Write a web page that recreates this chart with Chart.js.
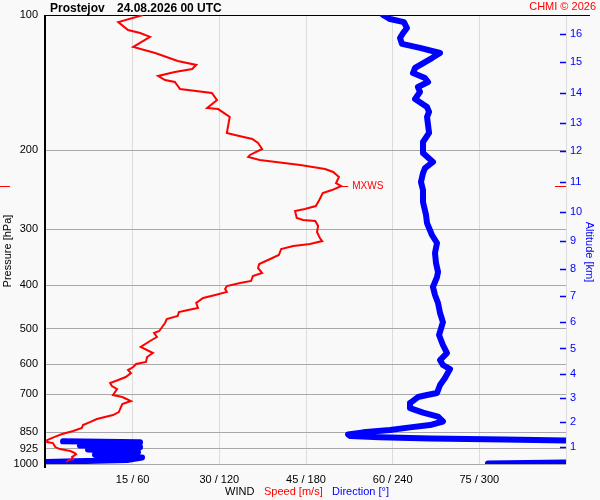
<!DOCTYPE html>
<html>
<head>
<meta charset="utf-8">
<script src="https://cdn.jsdelivr.net/npm/chart.js@4/dist/chart.umd.min.js"></script>
<style>
  html, body { margin: 0; padding: 0; background: #f9f9f9; }
  #wrap { width: 600px; height: 500px; }
</style>
</head>
<body>
<div id="wrap"><canvas id="sounding" width="600" height="500"></canvas></div>
<script>
// wind speed profile: pressure levels (hPa) and speed (m/s)
const speedPressure = [100, 103.7, 108.0, 109.7, 111.9, 117.8, 121.5, 126.6, 129.2, 131.9,
  134.0, 136.7, 139.6, 141.0, 146.2, 149.2, 154.7, 161.1, 162.0, 168.7,
  183.1, 185.0, 188.9, 192.8, 198.8, 205.0, 207.1, 210.3, 215.8, 220.3,
  223.7, 229.5, 236.7, 240.4, 245.4, 249.2, 258.3, 266.4, 270.5, 273.3,
  283.3, 286.2, 287.6, 295.1, 304.3, 313.8, 318.7, 323.6, 326.9, 332.0,
  342.4, 349.5, 358.6, 366.0, 375.5, 381.3, 391.2, 395.2, 401.4, 407.6,
  413.9, 420.3, 426.8, 437.9, 449.3, 453.9, 458.6, 468.1, 475.4, 485.2,
  495.3, 505.6, 510.8, 521.4, 532.2, 548.8, 566.0, 577.7, 592.7, 598.8,
  608.1, 617.6, 627.2, 640.2, 650.1, 660.2, 670.5, 680.9, 702.2, 709.4,
  724.1, 735.4, 766.1, 778.0, 794.1, 806.5, 819.0, 831.7, 844.6, 857.7,
  871.0, 884.5, 893.6, 898.2, 916.8, 926.3, 935.8, 945.5, 950.4, 965.1,
  975.1, 979.6, 989.8];
const speed = [16.8, 12.5, 14.2, 16.3, 18.0, 15.1, 18.9, 22.8, 26.0, 25.3,
  22.3, 19.4, 20.6, 22.3, 23.2, 28.7, 29.6, 27.9, 29.8, 31.8,
  31.3, 32.7, 35.7, 36.7, 37.4, 35.3, 35.0, 37.0, 44.0, 48.3,
  49.7, 50.7, 50.2, 51.1, 49.5, 47.9, 47.3, 46.7, 44.8, 43.1,
  43.4, 44.5, 46.6, 47.1, 46.9, 47.4, 47.8, 45.7, 42.8, 40.7,
  40.3, 38.8, 36.9, 36.7, 37.4, 35.8, 35.5, 33.6, 31.3, 31.0,
  31.3, 29.3, 27.2, 26.0, 26.3, 24.6, 23.0, 22.8, 20.9, 20.6,
  20.1, 19.6, 18.7, 19.2, 18.0, 16.4, 18.5, 17.5, 17.3, 15.6,
  15.1, 14.2, 14.7, 13.8, 12.5, 11.1, 11.4, 12.3, 11.6, 13.2,
  14.7, 13.2, 12.6, 11.6, 8.8, 7.6, 6.4, 6.2, 4.7, 2.8,
  1.4, 0.2, 0.2, 1.2, 1.6, 2.4, 4.2, 5.0, 5.2, 4.5,
  4.7, 4.0, 3.5];

// wind direction profile (deg); null breaks the line where it wraps 360 -> 0
const dirPressure = [100, 102.1, 103.7, 106.9, 109.7, 112.5, 116.0, 118.4, 121.5, 124.7,
  131.2, 134.7, 138.2, 141.0, 144.7, 148.4, 153.9, 160.3, 164.4, 168.7,
  175.8, 183.1, 191.8, 202.9, 212.5, 219.2, 224.9, 235.5, 245.4, 261.0,
  278.9, 290.6, 309.0, 322.0, 338.9, 356.7, 373.6, 383.3, 403.4, 420.3,
  437.9, 461.0, 482.9, 516.1, 543.2, 566.0, 586.7, 601.9, 614.4, 643.5,
  667.0, 695.0, 702.2, 709.4, 731.6, 750.6, 768.1, 784.0, 804.1, 819.0,
  828.7, 840.3, 850.2, 859.0, 866.5, 872.3, 877.7, 882.2, 885.9, null,
  890.4, 895.0, 909.8, 916.8, 928.7, 940.7, 955.3, 967.6, 979.6, 989.8,
  null, 992.3, 997.5];
const direction = [233.3, 238.2, 247.8, 249.9, 247.2, 245.1, 246.5, 258.9, 272.8, 267.2,
  255.5, 254.1, 262.4, 264.5, 257.5, 258.9, 255.5, 263.8, 265.2, 263.8,
  264.5, 265.2, 261.0, 261.0, 267.9, 262.4, 261.0, 259.6, 261.0, 261.0,
  263.1, 263.8, 267.2, 270.7, 269.3, 270.0, 271.4, 270.7, 267.9, 269.3,
  271.4, 272.8, 274.8, 272.1, 274.8, 277.6, 272.8, 274.8, 279.7, 276.2,
  272.8, 270.7, 263.8, 257.5, 252.0, 252.0, 261.0, 271.4, 274.8, 265.8,
  252.0, 238.2, 219.5, 209.1, 210.5, 231.2, 265.8, 317.8, 359.3, null,
  11.8, 65.1, 23.5, 65.1, 29.1, 63.7, 33.9, 66.5, 56.1, 0,
  null, 359.3, 306.0];

// axis ticks
const pressureTicks = [100, 200, 300, 400, 500, 600, 700, 850, 925, 1000];
const speedTicks = [15, 30, 45, 60, 75, 90];
const dirTicks = [60, 120, 180, 240, 300, 360];
const altitudeKm = [1, 2, 3, 4, 5, 6, 7, 8, 9, 10, 11, 12, 13, 14, 15, 16];
const altitudePressure = [915, 807, 714, 630, 553, 482, 423, 367, 318, 275, 236, 201, 174, 149, 127.5, 110];

const RED = '#ff0000';
const BLUE = '#0000ff';
Chart.defaults.font.family = '"Liberation Sans", Arial, sans-serif';
Chart.defaults.font.size = 11;

const decor = {
    id: 'decor',
    beforeDraw(chart) {
        const ctx = chart.ctx;
        ctx.save();
        ctx.fillStyle = '#f9f9f9';
        ctx.fillRect(0, 0, chart.width, chart.height);
        ctx.restore();
    },
    beforeDatasetsDraw(chart) {
        const ctx = chart.ctx;
        const a = chart.chartArea;
        ctx.save();
        ctx.strokeStyle = '#000';
        ctx.lineWidth = 2;
        ctx.beginPath();
        ctx.moveTo(a.left - 1, a.top);
        ctx.lineTo(a.left - 1, a.bottom + 4);
        ctx.stroke();
        ctx.lineWidth = 1;
        ctx.beginPath();
        ctx.moveTo(a.left - 2, a.top + 0.5);
        ctx.lineTo(590, a.top + 0.5);
        ctx.stroke();
        ctx.restore();
    },
    afterDraw(chart) {
        const ctx = chart.ctx;
        const a = chart.chartArea;
        const yS = chart.scales.y;
        const xS = chart.scales.x;
        ctx.save();

        // inward altitude ticks
        ctx.strokeStyle = BLUE;
        ctx.lineWidth = 1.5;
        altitudePressure.forEach(p => {
            const y = Math.round(yS.getPixelForValue(p)) + 0.5;
            ctx.beginPath();
            ctx.moveTo(a.right - 6, y);
            ctx.lineTo(a.right, y);
            ctx.stroke();
        });

        // maximum wind marker
        let iMax = 0;
        speed.forEach((s, i) => { if (s > speed[iMax]) iMax = i; });
        const my = Math.round(yS.getPixelForValue(speedPressure[iMax])) + 0.5;
        const mx = xS.getPixelForValue(speed[iMax]);
        ctx.strokeStyle = RED;
        ctx.lineWidth = 1;
        ctx.beginPath();
        ctx.moveTo(mx, my); ctx.lineTo(mx + 7, my);
        ctx.moveTo(0, my); ctx.lineTo(10, my);
        ctx.moveTo(a.right - 11, my); ctx.lineTo(a.right, my);
        ctx.stroke();
        ctx.fillStyle = RED;
        ctx.font = '10px "Liberation Sans", Arial, sans-serif';
        ctx.textBaseline = 'middle';
        ctx.fillText('MXWS', mx + 11, my);

        // header
        ctx.textBaseline = 'alphabetic';
        ctx.fillStyle = '#000';
        ctx.font = 'bold 12px "Liberation Sans", Arial, sans-serif';
        ctx.fillText('Prostejov', 50, 12);
        ctx.fillText('24.08.2026 00 UTC', 117, 12);
        ctx.fillStyle = RED;
        ctx.font = '11px "Liberation Sans", Arial, sans-serif';
        ctx.textAlign = 'right';
        ctx.fillText('CHMI \u00a9 2026', 596, 10);

        // bottom caption
        ctx.textAlign = 'left';
        ctx.fillStyle = '#000';
        ctx.fillText('WIND', 225, 495);
        ctx.fillStyle = RED;
        ctx.fillText('Speed [m/s]', 264, 495);
        ctx.fillStyle = BLUE;
        ctx.fillText('Direction [\u00b0]', 332, 495);

        // axis titles
        ctx.textAlign = 'center';
        ctx.textBaseline = 'middle';
        ctx.fillStyle = '#000';
        ctx.save();
        ctx.translate(8, 251);
        ctx.rotate(-Math.PI / 2);
        ctx.fillText('Pressure [hPa]', 0, 0);
        ctx.restore();
        ctx.fillStyle = BLUE;
        ctx.save();
        ctx.translate(589, 252);
        ctx.rotate(Math.PI / 2);
        ctx.fillText('Altitude [km]', 0, 0);
        ctx.restore();

        ctx.restore();
    }
};

const ctx = document.getElementById('sounding').getContext('2d');
const soundingChart = new Chart(ctx, {
    type: 'scatter',
    data: {
        datasets: [{
            label: 'Speed [m/s]',
            data: speed.map((s, i) => ({ x: s, y: speedPressure[i] })),
            xAxisID: 'x',
            yAxisID: 'y',
            showLine: true,
            borderColor: RED,
            borderWidth: 2,
            pointRadius: 0,
            tension: 0,
            order: 0
        }, {
            label: 'Direction [°]',
            data: direction.map((d, i) => ({ x: d, y: dirPressure[i] })),
            xAxisID: 'xd',
            yAxisID: 'y',
            showLine: true,
            spanGaps: false,
            borderColor: BLUE,
            borderWidth: 6,
            borderCapStyle: 'round',
            borderJoinStyle: 'round',
            pointRadius: 0,
            tension: 0,
            order: 1
        }]
    },
    options: {
        responsive: false,
        animation: false,
        devicePixelRatio: 1,
        layout: { padding: { top: 15, left: 0, right: 0, bottom: 0 } },
        plugins: {
            legend: { display: false },
            tooltip: { enabled: false }
        },
        scales: {
            x: {
                type: 'linear',
                position: 'bottom',
                min: 0,
                max: 90,
                afterBuildTicks: s => { s.ticks = speedTicks.map(v => ({ value: v })); },
                afterFit: s => { s.height = 36; },
                grid: { color: '#dcdcdc', drawTicks: false },
                border: { display: false },
                ticks: {
                    color: '#000',
                    padding: 9,
                    maxRotation: 0,
                    autoSkip: false,
                    callback: (v, i) => (v >= 90 ? '' : v + ' / ' + dirTicks[i])
                }
            },
            xd: {
                type: 'linear',
                display: false,
                min: 0,
                max: 360
            },
            y: {
                type: 'logarithmic',
                position: 'left',
                reverse: true,
                min: 100,
                max: 1000,
                afterBuildTicks: s => { s.ticks = pressureTicks.map(v => ({ value: v })); },
                afterFit: s => { s.width = 46; },
                grid: { color: '#a8a8a8', drawTicks: false },
                border: { display: false },
                ticks: {
                    color: '#000',
                    padding: 8,
                    autoSkip: false,
                    callback: v => String(v)
                }
            },
            alt: {
                type: 'logarithmic',
                position: 'right',
                reverse: true,
                min: 100,
                max: 1000,
                afterBuildTicks: s => { s.ticks = altitudePressure.map(v => ({ value: v })); },
                afterFit: s => { s.width = 34; },
                grid: { drawOnChartArea: false, drawTicks: false },
                border: { display: false },
                ticks: {
                    color: BLUE,
                    padding: 4,
                    autoSkip: false,
                    callback: (v, i) => String(altitudeKm[i])
                }
            }
        }
    },
    plugins: [decor]
});
</script>
</body>
</html>
